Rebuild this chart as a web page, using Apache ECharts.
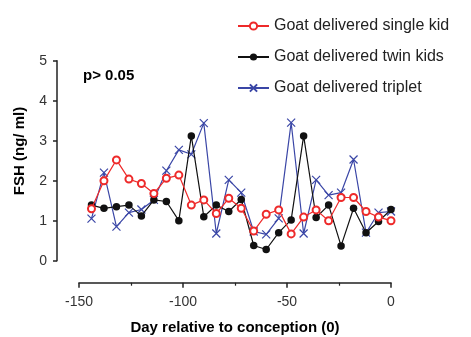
<!DOCTYPE html>
<html><head><meta charset="utf-8">
<script src="https://cdn.jsdelivr.net/npm/echarts@6/dist/echarts.min.js"></script>
<style>html,body{margin:0;padding:0;background:#fff}#c{width:471px;height:337px}</style>
</head><body><div id="c"></div>
<script>
const days = [-144,-138,-132,-126,-120,-114,-108,-102,-96,-90,-84,-78,-72,-66,-60,-54,-48,-42,-36,-30,-24,-18,-12,-6,0];
const singleKid = [1.3,2.0,2.52,2.04,1.93,1.68,2.06,2.14,1.39,1.52,1.18,1.56,1.31,0.74,1.16,1.27,0.67,1.09,1.27,1.0,1.58,1.58,1.23,1.09,1.0];
const twinKids = [1.39,1.31,1.35,1.39,1.12,1.52,1.48,1.0,3.12,1.1,1.39,1.23,1.53,0.38,0.28,0.7,1.02,3.12,1.08,1.39,0.37,1.31,0.7,0.98,1.28];
const triplet = [1.05,2.2,0.85,1.2,1.28,1.52,2.25,2.77,2.66,3.44,0.68,2.02,1.7,0.73,0.66,1.06,3.45,0.68,2.02,1.64,1.7,2.53,0.7,1.2,1.23];
const seriesNames = ['Goat delivered single kid','Goat delivered twin kids','Goat delivered triplet'];
const xTicks = [-150,-100,-50,0];
const yTicks = [0,1,2,3,4,5];

const FONT = '"Liberation Sans", Arial, sans-serif';
const RED = '#ee2a2a', BLACK = '#111111', BLUE = '#3a46a6';
const pair = (xs, ys) => xs.map((x, i) => [x, ys[i]]);
const chart = echarts.init(document.getElementById('c'), null, {renderer: 'canvas'});
const lineCol = {color: '#222', width: 1.5};
chart.setOption({
  animation: false,
  backgroundColor: '#fff',
  grid: {left: 79, right: 80, top: 60.7, bottom: 76.3, containLabel: false, outerBoundsMode: 'none'},
  legend: {
    orient: 'vertical', left: 232, top: 13, itemWidth: 31, itemHeight: 9, itemGap: 15,
    textStyle: {fontFamily: FONT, fontSize: 16, color: '#222'},
    data: seriesNames
  },
  graphic: [
    {type: 'text', left: 83, top: 68, style: {text: 'p> 0.05', font: 'bold 15px ' + FONT, fill: '#000'}},
    {type: 'text', x: 20, y: 151, rotation: Math.PI / 2,
      style: {text: 'FSH (ng/ ml)', font: 'bold 15px ' + FONT, fill: '#000', align: 'center', verticalAlign: 'middle'}}
  ],
  xAxis: {
    type: 'value', min: -150, max: 0, interval: 50, offset: 22,
    axisLine: {show: true, onZero: false, lineStyle: lineCol},
    axisTick: {show: true, length: 5, lineStyle: lineCol},
    minorTick: {show: true, splitNumber: 2, length: 3, lineStyle: {color: '#222', width: 1.2}},
    splitLine: {show: false},
    axisLabel: {fontFamily: FONT, fontSize: 14, color: '#333', margin: 12, customValues: xTicks},
    name: 'Day relative to conception (0)', nameLocation: 'middle', nameGap: 38,
    nameTextStyle: {fontFamily: FONT, fontSize: 15, fontWeight: 'bold', color: '#000'}
  },
  yAxis: {
    type: 'value', min: 0, max: 5, interval: 1, offset: 22,
    axisLine: {show: true, onZero: false, lineStyle: lineCol},
    axisTick: {show: true, length: 4, lineStyle: lineCol},
    splitLine: {show: false},
    axisLabel: {fontFamily: FONT, fontSize: 14, color: '#333', margin: 10, customValues: yTicks}
  },
  series: [
    {name: seriesNames[0], type: 'line', data: pair(days, singleKid), symbol: 'emptyCircle', symbolSize: 7,
      lineStyle: {color: RED, width: 1.2}, itemStyle: {color: RED, borderColor: RED, borderWidth: 1.2}, z: 4},
    {name: seriesNames[1], type: 'line', data: pair(days, twinKids), symbol: 'circle', symbolSize: 7.5,
      lineStyle: {color: BLACK, width: 1.2}, itemStyle: {color: BLACK}, z: 3},
    {name: seriesNames[2], type: 'line', data: pair(days, triplet), symbol: 'path://M0,0L10,10M10,0L0,10', symbolSize: 8,
      lineStyle: {color: BLUE, width: 1.2}, itemStyle: {color: 'none', borderColor: BLUE, borderWidth: 1.2}, z: 2}
  ]
});
</script></body></html>
